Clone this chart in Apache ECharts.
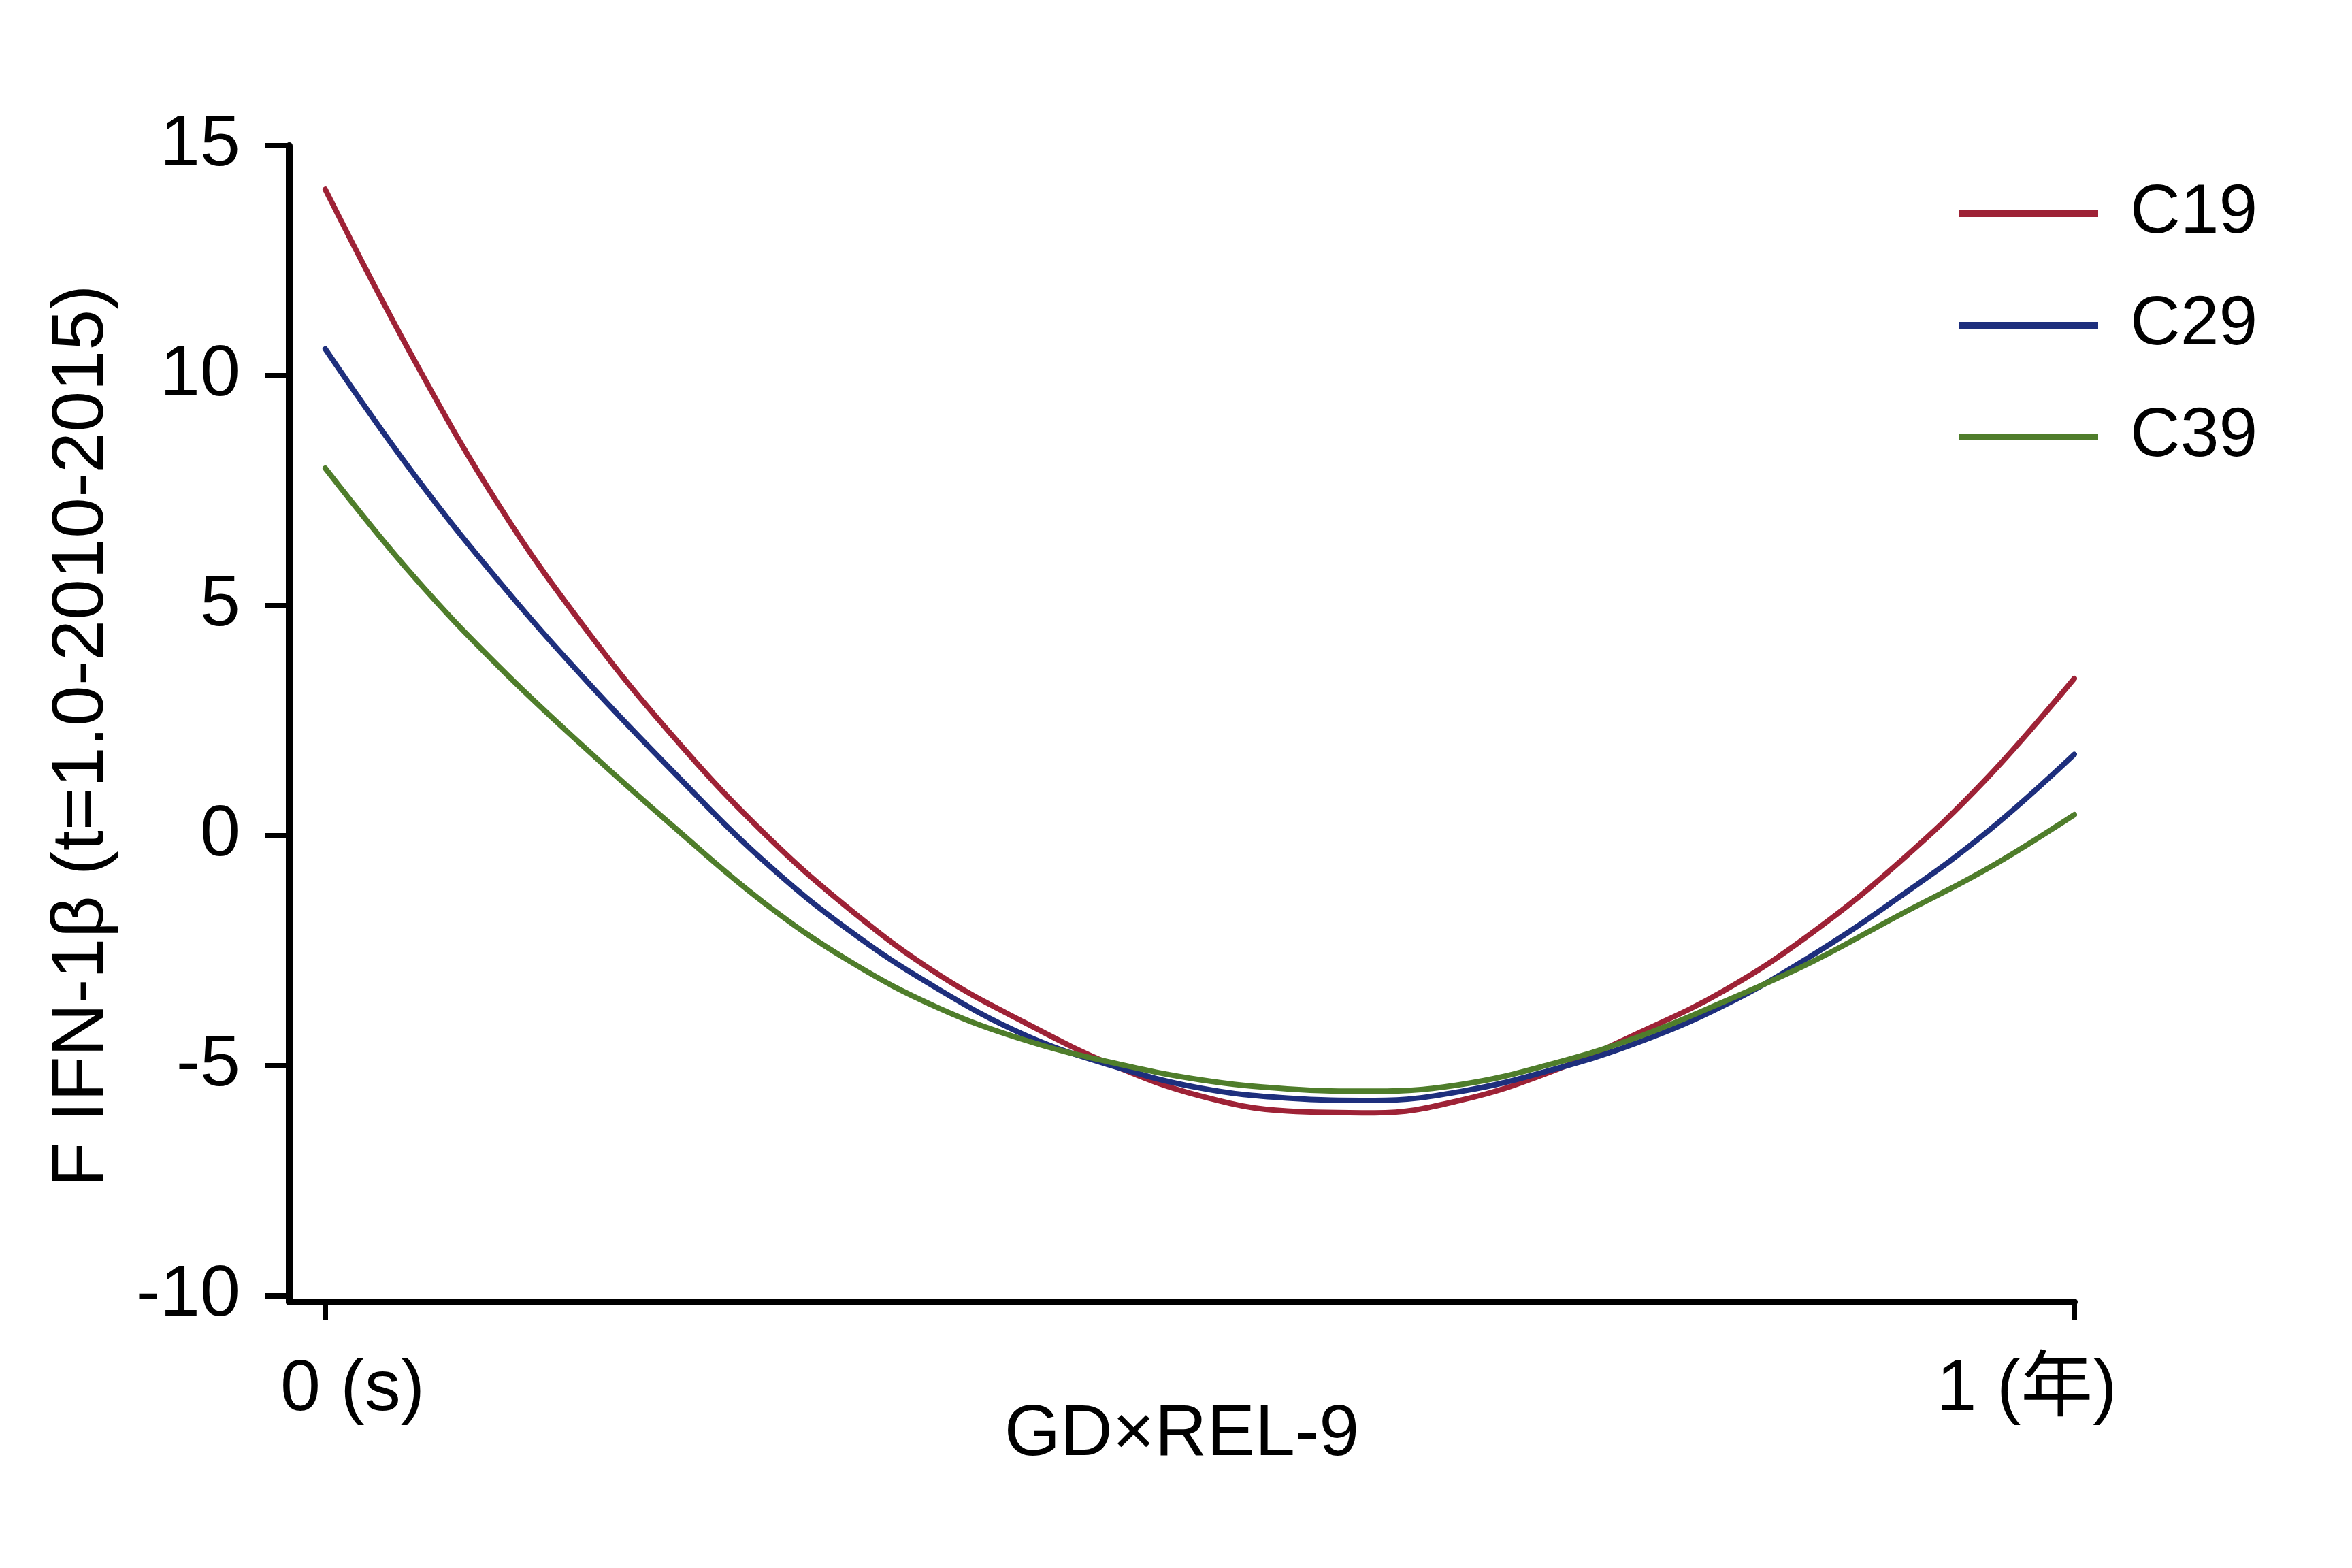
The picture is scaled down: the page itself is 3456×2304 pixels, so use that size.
<!DOCTYPE html>
<html>
<head>
<meta charset="utf-8">
<script src="https://cdn.jsdelivr.net/npm/echarts@6/dist/echarts.min.js"></script>
<style>
html,body{margin:0;padding:0;background:#fff;}
#chart{width:3456px;height:2304px;}
</style>
</head>
<body>
<div id="chart"></div>
<script>
// sample positions along the x axis (0 = "0 (s)", 1 = "1 (年)")
var tValues = [0, 0.05, 0.10, 0.15, 0.20, 0.25, 0.30, 0.35, 0.40, 0.45, 0.50, 0.55, 0.60, 0.65, 0.70, 0.75, 0.80, 0.85, 0.90, 0.95, 1.00];
var seriesNames = ['C19', 'C29', 'C39'];
var c19 = [14.05, 10.40, 7.14, 4.44, 2.11, 0.09, -1.60, -3.00, -4.06, -4.98, -5.65, -5.98, -6.02, -5.74, -5.14, -4.30, -3.36, -2.11, -0.57, 1.25, 3.42];
var c29 = [10.58, 7.89, 5.50, 3.34, 1.35, -0.52, -2.07, -3.32, -4.33, -5.00, -5.48, -5.70, -5.75, -5.55, -5.10, -4.50, -3.68, -2.60, -1.33, 0.08, 1.77];
var c39 = [7.99, 5.66, 3.65, 1.86, 0.17, -1.43, -2.73, -3.73, -4.44, -4.93, -5.30, -5.50, -5.55, -5.40, -4.97, -4.38, -3.60, -2.74, -1.72, -0.72, 0.46];
var yTickValues = [-10, -5, 0, 5, 10, 15];
var xTickValues = [0, 1];
var xTickLabels = ['0 (s)', '1 (年)'];
var xTitle = 'GD×REL-9';
var yTitle = 'F IFN-1β (t=1.0-2010-2015)';

var colors = ['#9E2236', '#1E2F7D', '#4F7D2B'];
var FONT = "'Liberation Sans', Arial, 'Noto Sans CJK SC', sans-serif";

function pairs(vals) {
  return tValues.map(function (t, i) { return [t, vals[i]]; });
}
var allVals = [c19, c29, c39];

var chart = echarts.init(document.getElementById('chart'), null, {renderer: 'canvas'});
var option = {
  backgroundColor: '#ffffff',
  animation: false,
  grid: {left: 425, right: 408, top: 214, bottom: 391, containLabel: false},
  legend: {
    orient: 'vertical',
    left: 2874,
    top: 258,
    itemWidth: 204,
    itemHeight: 10,
    itemGap: 62,
    icon: 'rect',
    data: seriesNames,
    textStyle: {fontFamily: FONT, fontSize: 102, color: '#000', padding: [0, 0, 0, 42]}
  },
  xAxis: {
    type: 'value',
    min: -0.0206,
    max: 1,
    name: xTitle,
    nameLocation: 'middle',
    nameGap: 143,
    nameMoveOverlap: false,
    nameTextStyle: {fontFamily: FONT, fontSize: 106, color: '#000'},
    axisLine: {show: true, onZero: false, lineStyle: {color: '#000', width: 10, cap: 'round'}},
    axisTick: {show: true, length: 27, customValues: xTickValues, lineStyle: {color: '#000', width: 8}},
    axisLabel: {
      show: true,
      customValues: xTickValues,
      margin: 77,
      formatter: function (v) {
        if (Math.abs(v) < 1e-9) return '{a|' + xTickLabels[0] + '}';
        return '{b|' + xTickLabels[1] + '}';
      },
      rich: {
        a: {fontFamily: FONT, fontSize: 106, color: '#000', padding: [0, 0, 0, 80]},
        b: {fontFamily: FONT, fontSize: 106, color: '#000', padding: [0, 140, 0, 0]}
      }
    },
    splitLine: {show: false}
  },
  yAxis: {
    type: 'value',
    min: -10.13,
    max: 15,
    name: yTitle,
    nameLocation: 'middle',
    nameRotate: 90,
    nameGap: 250,
    nameMoveOverlap: false,
    nameTextStyle: {fontFamily: FONT, fontSize: 108, color: '#000', padding: [0, 36, 0, 0]},
    axisLine: {show: true, onZero: false, lineStyle: {color: '#000', width: 10, cap: 'round'}},
    axisTick: {show: true, length: 36, customValues: yTickValues, lineStyle: {color: '#000', width: 8}},
    axisLabel: {show: true, customValues: yTickValues, margin: 72, fontFamily: FONT, fontSize: 106, color: '#000'},
    splitLine: {show: false}
  },
  series: seriesNames.map(function (n, i) {
    return {
      name: n,
      type: 'line',
      data: pairs(allVals[i]),
      smooth: 0.4,
      symbol: 'none',
      itemStyle: {color: colors[i]},
      lineStyle: {color: colors[i], width: 8, cap: 'round'},
      z: 3 + i
    };
  })
};
chart.setOption(option);
</script>
</body>
</html>
